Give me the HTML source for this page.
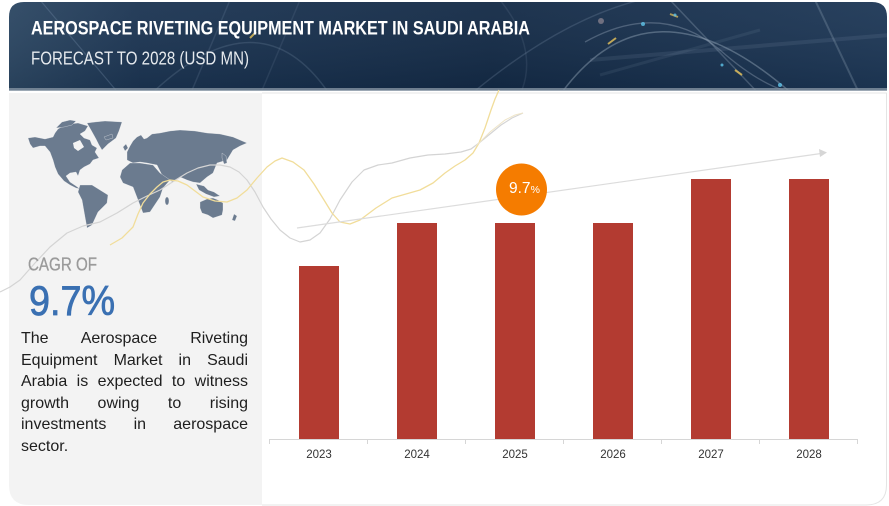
<!DOCTYPE html>
<html>
<head>
<meta charset="utf-8">
<style>
  html,body{margin:0;padding:0;background:#fff;}
  body{width:889px;height:506px;position:relative;overflow:hidden;font-family:"Liberation Sans",sans-serif;}
  svg{position:absolute;left:0;top:0;}
  .para{position:absolute;left:21px;top:328px;width:227px;font-size:16px;line-height:21.5px;color:#1e1e1e;text-align:justify;font-family:"Liberation Sans",sans-serif;}
</style>
</head>
<body>
<svg width="889" height="506" viewBox="0 0 889 506" xmlns="http://www.w3.org/2000/svg">
  <defs>
    <linearGradient id="bg" x1="0" y1="0" x2="1" y2="0">
      <stop offset="0" stop-color="#2b4662"/>
      <stop offset="0.15" stop-color="#1b3452"/>
      <stop offset="0.55" stop-color="#132a46"/>
      <stop offset="1" stop-color="#1d3756"/>
    </linearGradient>
    <linearGradient id="bgv" x1="0" y1="0" x2="0" y2="1">
      <stop offset="0" stop-color="#ffffff" stop-opacity="0.05"/>
      <stop offset="1" stop-color="#000000" stop-opacity="0.08"/>
    </linearGradient>
    <clipPath id="bclip">
      <path d="M9 90 L9 17 Q9 2 24 2 L872 2 Q887 2 887 17 L887 90 Z"/>
    </clipPath>
  </defs>

  <!-- Banner -->
  <path d="M9 90 L9 17 Q9 2 24 2 L872 2 Q887 2 887 17 L887 90 Z" fill="url(#bg)"/>
  <path d="M9 90 L9 17 Q9 2 24 2 L872 2 Q887 2 887 17 L887 90 Z" fill="url(#bgv)"/>
  <g clip-path="url(#bclip)" fill="none">
    <path d="M40 0 L120 95" stroke="#8aa4c0" stroke-opacity="0.25" stroke-width="1.2"/>
    <path d="M150 95 Q260 -10 330 95" stroke="#9ab0c8" stroke-opacity="0.18" stroke-width="1.5"/>
    <path d="M230 0 L190 95" stroke="#9ab0c8" stroke-opacity="0.15" stroke-width="1.5"/>
    <path d="M300 0 L260 95" stroke="#9ab0c8" stroke-opacity="0.12" stroke-width="1.5"/>
    <path d="M470 95 Q560 20 640 0" stroke="#9ab0c8" stroke-opacity="0.2" stroke-width="1.5"/>
    <path d="M560 95 Q650 -30 790 92" stroke="#b8c8d8" stroke-opacity="0.35" stroke-width="1.5"/>
    <path d="M585 42 Q660 0 720 50 Q760 85 790 92" stroke="#b8c8d8" stroke-opacity="0.3" stroke-width="1.3"/>
    <path d="M670 0 L760 95" stroke="#b8c8d8" stroke-opacity="0.25" stroke-width="1.5"/>
    <path d="M815 0 L860 95" stroke="#b8c8d8" stroke-opacity="0.22" stroke-width="2"/>
    <path d="M590 60 L890 35" stroke="#9ab0c8" stroke-opacity="0.12" stroke-width="4"/>
    <path d="M600 75 L760 30" stroke="#9ab0c8" stroke-opacity="0.1" stroke-width="3"/>
    <path d="M500 0 Q540 50 520 95" stroke="#9ab0c8" stroke-opacity="0.12" stroke-width="1.5"/>
    <line x1="250" y1="38" x2="256" y2="32" stroke="#e8c45a" stroke-width="2" stroke-opacity="0.8"/>
    <line x1="608" y1="44" x2="616" y2="38" stroke="#e8c45a" stroke-width="2" stroke-opacity="0.8"/>
    <line x1="735" y1="70" x2="742" y2="75" stroke="#e8c45a" stroke-width="2" stroke-opacity="0.8"/>
    <line x1="670" y1="14" x2="678" y2="17" stroke="#e8c45a" stroke-width="2" stroke-opacity="0.7"/>
    <circle cx="643" cy="24" r="2" fill="#5fc4ea" opacity="0.8"/>
    <circle cx="780" cy="85" r="2" fill="#5fc4ea" opacity="0.8"/>
    <circle cx="722" cy="65" r="1.5" fill="#5fc4ea" opacity="0.8"/>
    <circle cx="675" cy="15" r="1.5" fill="#5fc4ea" opacity="0.8"/>
    <circle cx="601" cy="21" r="3" fill="#e7c6c6" opacity="0.4"/>
  </g>
  <rect x="9" y="88" width="878" height="3" fill="#8593a2" opacity="0.8"/>

  <!-- Left panel -->
  <path d="M9 93 L262 93 L262 505 L29 505 Q9 505 9 485 Z" fill="#f3f3f3"/>
  <!-- Right panel -->
  <path d="M262 93 L886.5 93 L886.5 485 Q886.5 505 866 505 L262 505" fill="#ffffff" stroke="#e4e4e4" stroke-width="1"/>

  <!-- Banner text -->
  <text x="31" y="34.5" fill="#ffffff" font-family="Liberation Sans, sans-serif" font-size="19.5" font-weight="bold" textLength="499" lengthAdjust="spacingAndGlyphs">AEROSPACE RIVETING EQUIPMENT MARKET IN SAUDI ARABIA</text>
  <text x="31" y="64.5" fill="#e6eaee" font-family="Liberation Sans, sans-serif" font-size="18" textLength="218" lengthAdjust="spacingAndGlyphs">FORECAST TO 2028 (USD MN)</text>

  <!-- World map -->
  <g fill="#6b7b8f" stroke="#f3f3f3" stroke-width="0.3">
    <polygon points="28,138 35,137 45,139 53,137 55,133 58,129 63,126 70,124 78,123 88,126 85,131 80,134 84,138 90,140 92,145 97,148 95,152 99,158 93,160 90,164 84,167 80,170 78,176 76,172 70,173 66,176 70,182 76,186 80,189 76,188 70,185 64,181 58,174 55,167 53,160 50,152 45,146 40,146 33,148 30,144"/>
    <polygon points="56,128 62,122 70,120 76,121 72,125 64,127"/>
    <polygon points="87,123 95,122 105,121 122,122 119,131 116,138 108,144 102,150 99,145 96,139 91,130"/>
    <polygon points="80,185 92,185 100,190 108,195 107,203 98,212 92,225 87,228 85,217 82,200 78,192"/>
    <polygon points="127,152 130,146 133,141 137,137 141,135 144,139 147,138 152,134 160,133 170,131 180,130 195,131 207,133 220,134 233,137 247,143 240,146 233,150 227,160 217,163 213,173 207,177 200,183 193,182 187,180 180,177 173,182 163,177 157,165 147,163 140,162 133,163 127,160"/>
    <polygon points="122,170 130,163 140,163 153,165 160,173 170,180 163,188 160,197 150,212 143,213 138,200 133,187 123,183 120,177"/>
    <ellipse cx="167" cy="201" rx="2" ry="4"/>
    <polygon points="196,184 204,186 208,190 214,192 220,196 214,197 206,194 199,190"/>
    <polygon points="200,202 207,199 213,198 218,200 223,203 223,210 222,215 213,218 208,215 202,213 200,208"/>
    <polygon points="222,153 226,156 227,163 224,164 222,158"/>
    <polygon points="234,214 237,216 235,221 232,220"/>
    <polygon points="123,147 126,144 128,148 125,151"/>
    <polygon points="104,137 112,134 113,138 106,140"/>
  </g>
  <polygon points="73,143 80,140 84,147 78,151 74,148" fill="#f3f3f3"/>

  <!-- Decorative curves -->
  <polyline fill="none" stroke="#d4d4d4" stroke-width="1.2" stroke-linejoin="round"
    points="0,292 10,287 20,280 35,263 50,247 67,233 83,226 100,222 117,213 133,203 147,196 160,190 174,181 187,173 198,168 210,165 220,165 230,167 239,172 247,180 255,192 263,207 271,219 280,230 290,238 300,242 310,240 320,233 330,219 340,200 352,182 364,170 378,165 392,163 410,158 428,155 445,154 461,152 471,149 479,143 490,134 501,125 512,118 523,113"/>
  <polyline fill="none" stroke="#f1dd9a" stroke-width="1.3" stroke-linejoin="round"
    points="110,245 122,238 133,227 138,214 143,203 150,194 157,187 163,182 170,180 178,181 187,185 195,191 203,197 215,201 227,202 237,198 247,190 257,178 267,167 275,161 282,158 293,162 304,170 314,184 324,200 332,213 340,222 350,224 360,220 376,208 392,198 406,194 420,190 433,183 445,173 455,166 465,160 473,153 479,143 485,128 491,110 495,99 499,90"/>
  <polyline fill="none" stroke="#efe5c8" stroke-width="1" stroke-linejoin="round"
    points="476,146 490,132 505,120 515,115 523,113"/>

  <!-- Trend arrow -->
  <line x1="297" y1="228" x2="821" y2="153.5" stroke="#dcdcdc" stroke-width="1.2"/>
  <polygon points="827,152.5 819,149 820,157" fill="#d6d6d6"/>

  <!-- Bars -->
  <g fill="#b33b31">
    <rect x="299" y="266" width="40" height="173"/>
    <rect x="397" y="223" width="40" height="216"/>
    <rect x="495" y="223" width="40" height="216"/>
    <rect x="593" y="223" width="40" height="216"/>
    <rect x="691" y="179" width="40" height="260"/>
    <rect x="789" y="179" width="40" height="260"/>
  </g>

  <!-- Axis -->
  <g stroke="#d6d6d6" stroke-width="1">
    <line x1="269" y1="439.5" x2="858" y2="439.5"/>
    <line x1="269.5" y1="439" x2="269.5" y2="444"/>
    <line x1="367.5" y1="439" x2="367.5" y2="444"/>
    <line x1="465.5" y1="439" x2="465.5" y2="444"/>
    <line x1="563.5" y1="439" x2="563.5" y2="444"/>
    <line x1="661.5" y1="439" x2="661.5" y2="444"/>
    <line x1="759.5" y1="439" x2="759.5" y2="444"/>
    <line x1="857.5" y1="439" x2="857.5" y2="444"/>
  </g>
  <g font-family="Liberation Sans, sans-serif" font-size="11.5" fill="#333" text-anchor="middle">
    <text x="319" y="458">2023</text>
    <text x="417" y="458">2024</text>
    <text x="515" y="458">2025</text>
    <text x="613" y="458">2026</text>
    <text x="711" y="458">2027</text>
    <text x="809" y="458">2028</text>
  </g>

  <!-- CAGR bubble -->
  <ellipse cx="521.5" cy="189.5" rx="25.5" ry="26" fill="#f57c00"/>
  <text x="509" y="193" fill="#ffffff" font-family="Liberation Sans, sans-serif" font-size="15.5">9.7<tspan font-size="10.5">%</tspan></text>

  <!-- CAGR text -->
  <text x="28" y="270.5" fill="#9a9a9a" stroke="#9a9a9a" stroke-width="0.3" font-family="Liberation Sans, sans-serif" font-size="18" textLength="69" lengthAdjust="spacingAndGlyphs">CAGR OF</text>
  <text x="29" y="315" fill="#3a70b2" stroke="#3a70b2" stroke-width="0.8" font-family="Liberation Sans, sans-serif" font-size="41.5" textLength="86" lengthAdjust="spacingAndGlyphs">9.7%</text>
</svg>
<div class="para">The Aerospace Riveting Equipment Market in Saudi Arabia is expected to witness growth owing to rising investments in aerospace sector.</div>
</body>
</html>
